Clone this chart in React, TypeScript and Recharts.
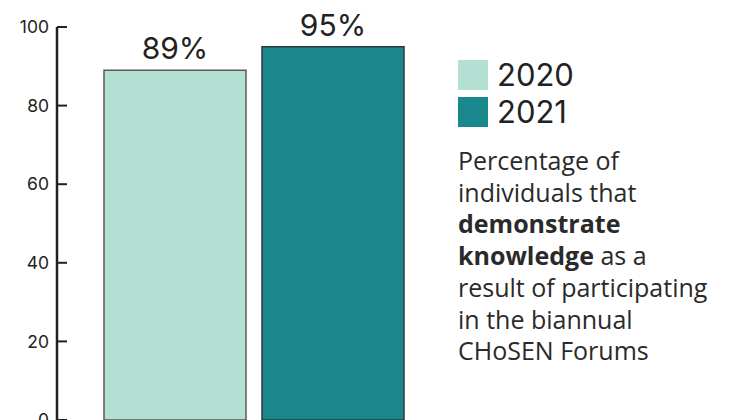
import React from 'react';
import { BarChart, Bar, XAxis, YAxis, Legend, LabelList } from 'recharts';

const categories = ['Demonstrate knowledge'];
const values2020 = [89];
const values2021 = [95];
const seriesNames = ['2020', '2021'];
const seriesColors = ['#b4dfd3', '#1a878d'];
const seriesStrokes = ['#5a5a5a', '#2b3b3e'];
const yTicks = [0, 20, 40, 60, 80, 100];
const edgeTicks = [0, 1];

const data = categories.map((name, i) => ({
  name,
  y2020: values2020[i],
  y2021: values2021[i],
}));

const numFont = 'Inter, "DejaVu Sans", sans-serif';
const textFont = '"Open Sans", "Noto Sans", sans-serif';

const renderLegend = (props: any) => {
  const { payload } = props;
  return (
    <div style={{ fontFamily: numFont }}>
      {(payload || []).map((entry: any, i: number) => (
        <div key={i} style={{ display: 'flex', alignItems: 'center', height: 37 }}>
          <div style={{ width: 30, height: 30, background: entry.color, marginRight: 9 }} />
          <span style={{ fontSize: 31, color: '#222', lineHeight: '30px' }}>{entry.value}</span>
        </div>
      ))}
    </div>
  );
};

export default function App() {
  return (
    <div style={{ position: 'absolute', left: 0, top: 0, width: 733, height: 420, overflow: 'hidden', background: '#fff' }}>
      <BarChart
        width={733}
        height={440}
        data={data}
        margin={{ top: 27, right: 282, left: 0, bottom: 20 }}
        barCategoryGap={47}
        barGap={16}
      >
        <XAxis xAxisId="cat" dataKey="name" tick={false} tickLine={false} height={0} axisLine={{ stroke: '#aaaaaa', strokeWidth: 1.5 }} />
        <XAxis
          xAxisId="edge"
          type="number"
          domain={[0, 1]}
          ticks={edgeTicks}
          allowDataOverflow
          axisLine={false}
          height={0}
          tickSize={-9}
          tickFormatter={() => ''}
          tickLine={{ stroke: '#222', strokeWidth: 2 }}
        />
        <YAxis
          width={57}
          domain={[0, 100]}
          ticks={yTicks}
          interval={0}
          tickSize={-10}
          tickMargin={18}
          axisLine={{ stroke: '#222', strokeWidth: 2.5 }}
          tickLine={{ stroke: '#222', strokeWidth: 2 }}
          tick={{ fontSize: 17.5, fill: '#222', fontFamily: numFont }}
        />
        <Legend
          layout="vertical"
          align="center"
          verticalAlign="middle"
          content={renderLegend}
          wrapperStyle={{ left: 458, top: 56, width: 200, height: 80 }}
        />
        <Bar xAxisId="cat" dataKey="y2020" name={seriesNames[0]} fill={seriesColors[0]} stroke={seriesStrokes[0]} strokeWidth={1.5} isAnimationActive={false}>
          <LabelList dataKey="y2020" position="top" offset={11} formatter={(v: any) => `${v}%`} style={{ fontSize: 30, fill: '#222', fontFamily: numFont }} />
        </Bar>
        <Bar xAxisId="cat" dataKey="y2021" name={seriesNames[1]} fill={seriesColors[1]} stroke={seriesStrokes[1]} strokeWidth={1.5} isAnimationActive={false}>
          <LabelList dataKey="y2021" position="top" offset={11} formatter={(v: any) => `${v}%`} style={{ fontSize: 30, fill: '#222', fontFamily: numFont }} />
        </Bar>
      </BarChart>
      <div
        style={{
          position: 'absolute',
          left: 458,
          top: 145,
          width: 275,
          fontFamily: textFont,
          fontSize: 25,
          lineHeight: '31.7px',
          color: '#2a2a2a',
        }}
      >
        Percentage of
        <br />
        individuals that
        <br />
        <b>demonstrate</b>
        <br />
        <b>knowledge</b> as a
        <br />
        result of participating
        <br />
        in the biannual
        <br />
        CHoSEN Forums
      </div>
    </div>
  );
}
